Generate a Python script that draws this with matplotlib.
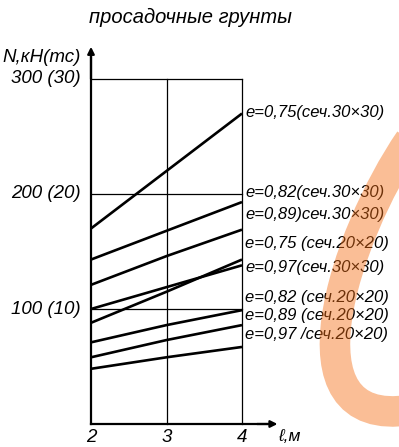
import matplotlib
matplotlib.use('Agg')
import matplotlib.pyplot as plt
from matplotlib.path import Path
from matplotlib.patches import PathPatch
from matplotlib.transforms import IdentityTransform

plt.rcParams['font.family'] = ['Liberation Sans', 'DejaVu Sans']

# длина сваи, м
lengths = [2, 3, 4]

# несущая способность N, кН, для каждой кривой
n_075_30 = [170, 220, 270]
n_082_30 = [143, 168, 193]
n_089_30 = [121, 146, 169]
n_097_30 = [100, 119, 138]
n_075_20 = [88, 115, 143]
n_082_20 = [71, 86, 99]
n_089_20 = [58, 73, 86]
n_097_20 = [48, 58, 67]

series = [n_075_30, n_082_30, n_089_30, n_097_30,
          n_075_20, n_082_20, n_089_20, n_097_20]

curve_labels = ['e=0,75(сеч.30×30)', 'e=0,82(сеч.30×30)', 'e=0,89)сеч.30×30)',
                'e=0,75 (сеч.20×20)', 'e=0,97(сеч.30×30)', 'e=0,82 (сеч.20×20)',
                'e=0,89 (сеч.20×20)', 'e=0,97 /сеч.20×20)']
label_y = [271, 201, 182, 157, 136, 110, 94, 78]

y_ticks = [100, 200, 300]
y_ticklabels = ['100 (10)', '200 (20)', '300 (30)']

W, H = 399, 447
fig = plt.figure(figsize=(W / 100, H / 100), dpi=100)
ax = fig.add_axes([91 / W, (H - 424) / H, 151 / W, 345 / H])
ax.set_xlim(2, 4)
ax.set_ylim(0, 300)
ax.axis('off')

fs = 12
kw = dict(style='italic', color='black', fontsize=fs, clip_on=False)

# сетка
for y in y_ticks:
    ax.plot([2, 4], [y, y], color='black', lw=0.9, clip_on=False)
for x in lengths[1:]:
    ax.plot([x, x], [0, 300], color='black', lw=0.9, clip_on=False)

# оси со стрелками
ax.plot([2, 4.4], [0, 0], color='black', lw=1.6, clip_on=False)
ax.plot([2, 2], [0, 320], color='black', lw=1.6, clip_on=False)
arrow = dict(arrowstyle='-|>', lw=1.6, color='black',
             mutation_scale=10, shrinkA=0, shrinkB=0)
ax.annotate('', xy=(2, 328), xytext=(2, 300), arrowprops=arrow, annotation_clip=False)
ax.annotate('', xy=(4.47, 0), xytext=(4.2, 0), arrowprops=arrow, annotation_clip=False)

for vals in series:
    ax.plot(lengths, vals, color='black', lw=1.9, solid_capstyle='butt', clip_on=False)

for txt, y in zip(curve_labels, label_y):
    ax.text(4.04, y, txt, ha='left', va='center', **kw)

kw_big = dict(kw, fontsize=13.5)
for y, txt in zip(y_ticks, y_ticklabels):
    ax.text(1.86, y, txt, ha='right', va='center', **kw_big)
ax.text(1.86, 319, 'N,кН(тс)', ha='right', va='center', **kw_big)

for x in lengths:
    ax.text(x, -12, str(x), ha='center', va='center', **kw_big)
ax.text(4.62, -11, 'ℓ,м', ha='center', va='center', **dict(kw, fontsize=12.5))

fig.text(190 / W, 1 - 17 / H, 'просадочные грунты', ha='center', va='center',
         style='italic', fontsize=14.5)

# оранжевая дуга поверх
verts = [(410, 140), (345, 235), (280, 430), (410, 410)]
verts = [(x, H - y) for x, y in verts]
arc = PathPatch(Path(verts, [Path.MOVETO, Path.CURVE4, Path.CURVE4, Path.CURVE4]),
                fill=False, lw=22, edgecolor=(244 / 255, 111 / 255, 22 / 255),
                alpha=0.45, transform=IdentityTransform(), zorder=10,
                capstyle='butt')
fig.add_artist(arc)

fig.savefig('out.png', dpi=100)
